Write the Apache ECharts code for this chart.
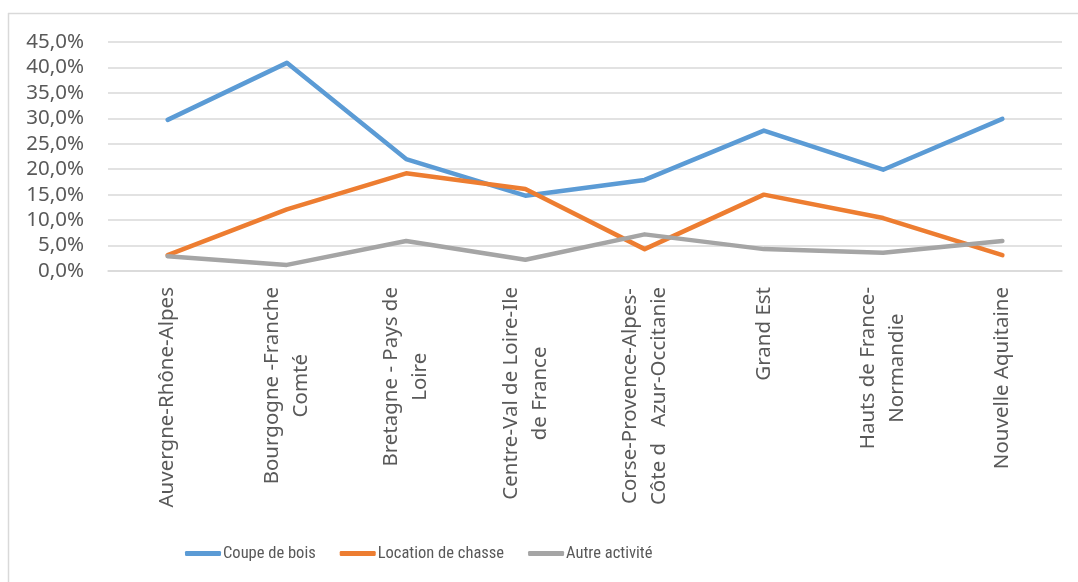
<!DOCTYPE html>
<html>
<head>
<meta charset="utf-8">
<script src="https://cdn.jsdelivr.net/npm/echarts@6/dist/echarts.min.js"></script>
<style>
html,body{margin:0;padding:0;background:#fff;}
#chart{width:1078px;height:582px;}
</style>
</head>
<body>
<div id="chart"></div>
<script>
const categories = [
  "Auvergne-Rhône-Alpes",
  "Bourgogne -Franche\nComté",
  "Bretagne - Pays de\nLoire",
  "Centre-Val de Loire-Ile\nde France",
  "Corse-Provence-Alpes-\nCôte d   Azur-Occitanie",
  "Grand Est",
  "Hauts de France-\nNormandie",
  "Nouvelle Aquitaine"
];
const coupeDeBois = [0.297, 0.409, 0.220, 0.148, 0.179, 0.276, 0.199, 0.299];
const locationDeChasse = [0.031, 0.121, 0.192, 0.161, 0.043, 0.150, 0.104, 0.031];
const autreActivite = [0.029, 0.012, 0.059, 0.022, 0.072, 0.043, 0.036, 0.059];
const seriesNames = ["Coupe de bois", "Location de chasse", "Autre activité"];
const colors = ["#5B9BD5", "#ED7D31", "#A5A5A5"];

const chart = echarts.init(document.getElementById('chart'));
const txt = '#595959';
const mkSeries = (name, data, color) => ({
  name, type: 'line', data, symbol: 'none', showSymbol: false,
  lineStyle: { color, width: 4.5, cap: 'round', join: 'round' },
  itemStyle: { color },
  animation: false
});
chart.setOption({
  animation: false,
  graphic: [
    { type: 'line', shape: { x1: 8.5, y1: 13, x2: 8.5, y2: 582 }, style: { stroke: '#D9D9D9', lineWidth: 1.5 } },
    { type: 'line', shape: { x1: 8, y1: 13.5, x2: 1078, y2: 13.5 }, style: { stroke: '#D9D9D9', lineWidth: 1.5 } }
  ],
  grid: { left: 108, right: 16, top: 42, bottom: 311, containLabel: false },
  legend: {
    left: 180, top: 540,
    icon: 'roundRect',
    itemWidth: 36, itemHeight: 5, itemGap: 24,
    textStyle: { color: txt, fontSize: 16.5, fontFamily: 'Liberation Sans Narrow, Roboto Condensed, Roboto', padding: [0, 0, 0, -3] },
    data: seriesNames
  },
  xAxis: {
    type: 'category', data: categories, boundaryGap: true,
    axisLine: { show: true, lineStyle: { color: '#D9D9D9', width: 1.5 } },
    axisTick: { show: false },
    axisLabel: {
      interval: 0, rotate: 90, margin: 16,
      color: txt, fontSize: 20.5, fontFamily: 'Noto Sans',
      formatter: v => v.split('\n').map(l => '{c|' + l + '}').join('\n'),
      rich: { c: { align: 'center', fontSize: 20.5, lineHeight: 29, color: txt, fontFamily: 'Noto Sans' } }
    }
  },
  yAxis: {
    type: 'value', min: 0, max: 0.45, interval: 0.05,
    axisLine: { show: false }, axisTick: { show: false },
    splitLine: { lineStyle: { color: '#D9D9D9', width: 1.5 } },
    axisLabel: {
      margin: 24, color: txt, fontSize: 20.5, fontFamily: 'Noto Sans',
      formatter: v => (v * 100).toFixed(1).replace('.', ',') + '%'
    }
  },
  series: [
    mkSeries(seriesNames[0], coupeDeBois, colors[0]),
    mkSeries(seriesNames[1], locationDeChasse, colors[1]),
    mkSeries(seriesNames[2], autreActivite, colors[2])
  ]
});
</script>
</body>
</html>
